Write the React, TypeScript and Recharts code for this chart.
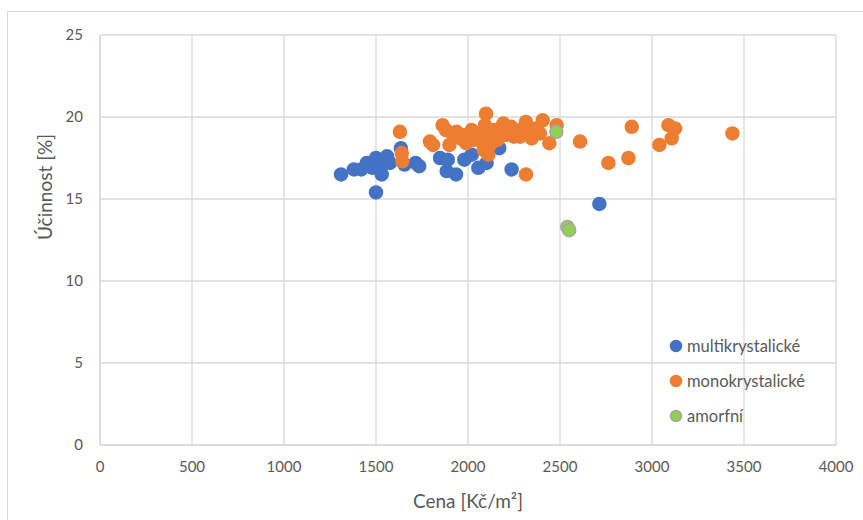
import { ScatterChart, Scatter, XAxis, YAxis, CartesianGrid, Legend, Label } from "recharts";

const multiPrice = [1310, 1380, 1420, 1450, 1480, 1500, 1495, 1500, 1515, 1530, 1531, 1545, 1560, 1576, 1635, 1655, 1715, 1735, 1848, 1890, 1884, 1935, 1980, 2020, 2056, 2098, 2101, 2140, 2170, 2237, 2714];
const multiEff = [16.5, 16.8, 16.8, 17.2, 16.9, 17.5, 17.0, 15.4, 17.3, 17.0, 16.5, 17.4, 17.6, 17.2, 18.1, 17.1, 17.2, 17.0, 17.5, 17.4, 16.7, 16.5, 17.4, 17.7, 16.9, 18.5, 17.2, 18.3, 18.1, 16.8, 14.7];

const monoPrice = [1630, 1640, 1643, 1793, 1810, 1862, 1880, 1899, 1920, 1938, 1960, 1971, 1990, 2005, 2020, 2029, 2045, 2060, 2075, 2085, 2092, 2098, 2100, 2110, 2120, 2130, 2140, 2147, 2160, 2175, 2192, 2200, 2210, 2220, 2235, 2250, 2265, 2283, 2300, 2315, 2330, 2346, 2360, 2373, 2390, 2406, 2442, 2482, 2315, 2609, 2763, 2872, 2890, 3040, 3089, 3107, 3125, 3437];
const monoEff = [19.1, 17.8, 17.3, 18.5, 18.3, 19.5, 19.2, 18.3, 18.9, 19.1, 18.7, 18.9, 18.4, 18.6, 19.2, 18.6, 18.8, 19.0, 18.5, 18.0, 19.5, 20.2, 18.2, 17.7, 18.3, 18.8, 19.2, 19.0, 18.6, 19.3, 19.6, 18.9, 19.2, 19.1, 19.4, 18.8, 19.0, 18.8, 19.3, 19.7, 19.0, 18.7, 19.2, 19.3, 19.0, 19.8, 18.4, 19.5, 16.5, 18.5, 17.2, 17.5, 19.4, 18.3, 19.5, 18.7, 19.3, 19.0];

const amorfPrice = [2480, 2540, 2550];
const amorfEff = [19.1, 13.3, 13.1];

const xTicks = [0, 500, 1000, 1500, 2000, 2500, 3000, 3500, 4000];
const yTicks = [0, 5, 10, 15, 20, 25];

const toPoints = (xs: number[], ys: number[]) => xs.map((x, i) => ({ x, y: ys[i] }));

const series = [
  { name: "multikrystalické", data: toPoints(multiPrice, multiEff), fill: "#4472C4", stroke: "#4472C4" },
  { name: "monokrystalické", data: toPoints(monoPrice, monoEff), fill: "#ED7D31", stroke: "#ED7D31" },
  { name: "amorfní", data: toPoints(amorfPrice, amorfEff), fill: "#92D050", stroke: "#A5A5A5" },
];

const font = "Lato, 'Noto Sans', sans-serif";
const textColor = "#595959";
const gridColor = "#d9d9d9";

const dot = (fill: string, stroke: string) => (props: any) => (
  <circle cx={props.cx} cy={props.cy} r={6.5} fill={fill} stroke={stroke} strokeWidth={1.5} />
);

const renderLegend = () => (
  <div style={{ fontFamily: font, fontSize: 16.5, color: textColor }}>
    {series.map((s) => (
      <div key={s.name} style={{ display: "flex", alignItems: "center", height: 35 }}>
        <svg width={14} height={14} style={{ marginRight: 4 }}>
          <circle cx={7} cy={7} r={5.5} fill={s.fill} stroke={s.stroke} strokeWidth={1.5} />
        </svg>
        <span>{s.name}</span>
      </div>
    ))}
  </div>
);

export default function App() {
  return (
    <div style={{ position: "absolute", left: 0, top: 0, width: 863, height: 520, overflow: "hidden", background: "#fff" }}>
      <div style={{ position: "absolute", left: 7, top: 11, width: 880, height: 540, border: `1px solid ${gridColor}` }} />
      <ScatterChart width={863} height={520} margin={{ top: 35, right: 27, left: 0, bottom: 0 }}>
        <CartesianGrid stroke={gridColor} strokeWidth={1.3} />
        <XAxis
          type="number"
          dataKey="x"
          domain={[0, 4000]}
          ticks={xTicks}
          height={75}
          tickSize={0}
          tickMargin={16}
          axisLine={{ stroke: gridColor, strokeWidth: 1.3 }}
          tickLine={false}
          tick={{ fill: textColor, fontSize: 15, fontFamily: font }}
        >
          <Label value="Cena [Kč/m²]" position="insideBottom" offset={12} fill={textColor} fontSize={19} fontFamily={font} />
        </XAxis>
        <YAxis
          type="number"
          dataKey="y"
          domain={[0, 25]}
          ticks={yTicks}
          width={100}
          tickSize={0}
          tickMargin={17}
          axisLine={{ stroke: gridColor, strokeWidth: 1.3 }}
          tickLine={false}
          tick={{ fill: textColor, fontSize: 15, fontFamily: font }}
        >
          <Label value="Účinnost [%]" angle={-90} position="insideLeft" offset={32} dx={13} fill={textColor} fontSize={19} fontFamily={font} />
        </YAxis>
        <Legend
          layout="vertical"
          verticalAlign="middle"
          align="center"
          content={renderLegend}
          wrapperStyle={{ left: 669, top: 328, width: 170 }}
        />
        {series.map((s) => (
          <Scatter
            key={s.name}
            name={s.name}
            data={s.data}
            fill={s.fill}
            shape={dot(s.fill, s.stroke)}
            isAnimationActive={false}
          />
        ))}
      </ScatterChart>
    </div>
  );
}
